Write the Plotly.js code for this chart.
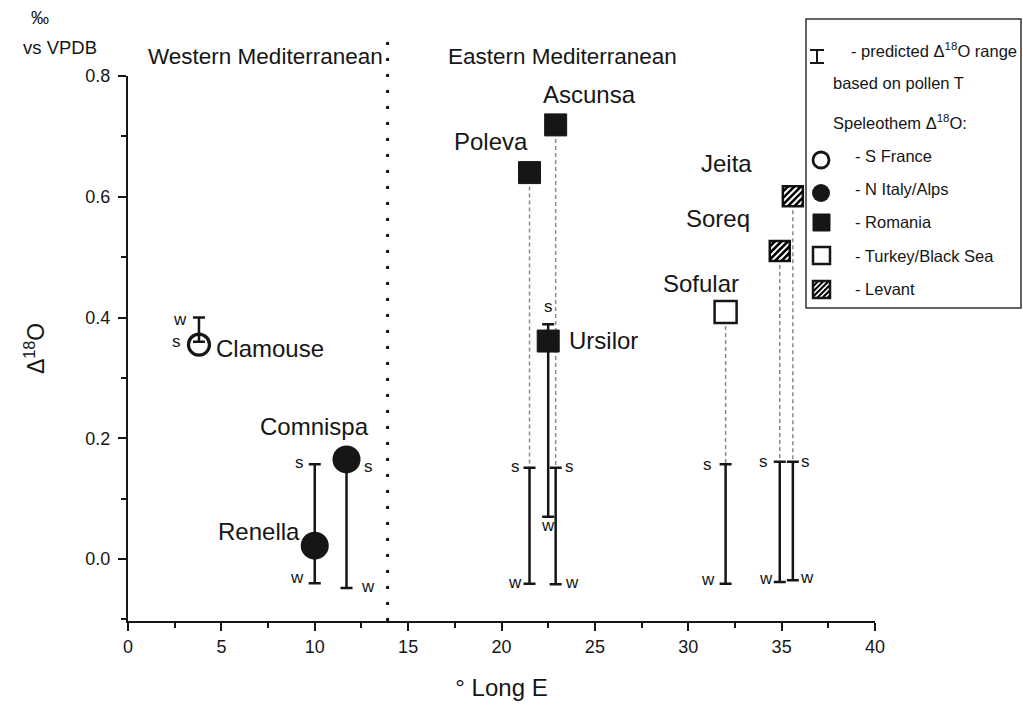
<!DOCTYPE html>
<html><head><meta charset="utf-8">
<script src="https://cdn.plot.ly/plotly-3.0.1.min.js"></script>
<style>html,body{margin:0;padding:0;background:#fff}#chart{width:1023px;height:707px}</style>
</head><body><div id="chart"></div>
<script>
// ---------------- data ----------------
const siteNames  = ['Clamouse','Renella','Comnispa','Poleva','Ascunsa','Ursilor','Sofular','Soreq','Jeita'];
const siteRegion = ['S France','N Italy/Alps','N Italy/Alps','Romania','Romania','Romania','Turkey/Black Sea','Levant','Levant'];
const siteLong   = [3.8, 10.0, 11.7, 21.5, 22.9, 22.5, 32.0, 34.9, 35.6];
const siteD18O   = [0.355, 0.022, 0.165, 0.640, 0.719, 0.361, 0.409, 0.510, 0.601];
// predicted range from pollen T (s = summer end, w = winter end)
const rangeSummer = [0.360, 0.157, 0.150, 0.151, 0.151, 0.389, 0.157, 0.161, 0.161];
const rangeWinter = [0.400, -0.040, -0.048, -0.041, -0.042, 0.070, -0.041, -0.038, -0.035];
const connectorSites = ['Poleva','Ascunsa','Sofular','Soreq','Jeita'];
const regionNames = ['S France','N Italy/Alps','Romania','Turkey/Black Sea','Levant'];
const divideLong = 13.9;
const xTickVals = [0,5,10,15,20,25,30,35,40];
const yTickVals = [0.0,0.2,0.4,0.6,0.8];

// ---------------- styles ----------------
const FONT = 'Liberation Sans, Arial, sans-serif';
const INK = '#161616';
const PL = 128, PT = 76, PW = 747, PH = 545;
const XR = [0, 40], YR = [-0.1027, 0.8];
const px2x = p => (p - PL) / PW;
const py2y = p => (PT + PH - p) / PH;
const regionStyle = {
  'S France':        {symbol:'circle-open', size:21, color:INK, line:{width:3.2, color:INK}},
  'N Italy/Alps':    {symbol:'circle', size:28, color:INK, line:{width:0, color:INK}},
  'Romania':         {symbol:'square', size:22, color:INK, line:{width:1, color:INK}},
  'Turkey/Black Sea':{symbol:'square', size:22, color:'white', line:{width:2.5, color:INK}},
  'Levant':          {symbol:'square', size:20, color:'white', line:{width:2.5, color:INK}}
};
const labelAnchor = ['left','right','center','center','center','left','center','center','center'];
const labelShift  = [[15,-4],[-13,14],[-32,33],[-39,31],[34,30],[19,1],[-25,29],[-62,33],[-66,33]];
const sShift = [[-22,0],[-15,1.5],[22,1.5],[-14,1.5],[14,1.5],[0,17.5],[-18,0],[-16,0],[13,0]];
const wShift = [[-19,-1.5],[-18,5.5],[21,1.5],[-15,1.5],[16,1.5],[0,-8.5],[-18,4.5],[-14,3.5],[14,2.5]];

function hatchURI(){
  let l = '';
  for (let k = -21; k <= 21; k += 6.5) l += `<line x1='${k}' y1='20' x2='${k+20}' y2='0'/>`;
  const svg = `<svg xmlns='http://www.w3.org/2000/svg' width='20' height='20' viewBox='0 0 20 20'><g stroke='black' stroke-width='2.6'>${l}</g></svg>`;
  return 'data:image/svg+xml;charset=utf-8,' + encodeURIComponent(svg);
}
const HATCH = hatchURI();

// ---------------- traces ----------------
const traces = [];
const cx = [], cy = [];
siteNames.forEach((n,i) => { if (connectorSites.includes(n)) { cx.push(siteLong[i], siteLong[i], null); cy.push(siteD18O[i], rangeSummer[i], null); } });
traces.push({x:cx, y:cy, mode:'lines', line:{color:'#8a8a8a', width:1.5, dash:'4px,3px'}, hoverinfo:'skip', showlegend:false});
traces.push({
  name:'predicted range', x: siteLong, y: rangeSummer, mode:'markers',
  marker:{size:2, opacity:0}, showlegend:false,
  error_y:{type:'data', symmetric:false,
    array: rangeSummer.map((s,i) => Math.max(rangeWinter[i]-s, 0)),
    arrayminus: rangeSummer.map((s,i) => Math.max(s-rangeWinter[i], 0)),
    color:INK, thickness:2.5, width:6}
});
regionNames.forEach(r => {
  const idx = siteRegion.map((g,i) => g === r ? i : -1).filter(i => i >= 0);
  const st = regionStyle[r];
  traces.push({name:r, x: idx.map(i => siteLong[i]), y: idx.map(i => siteD18O[i]), text: idx.map(i => siteNames[i]),
    mode:'markers', showlegend:false, marker:{symbol:st.symbol, size:st.size, color:st.color, line:st.line}});
});

// ---------------- annotations ----------------
const ann = [];
siteNames.forEach((n,i) => {
  ann.push({x:siteLong[i], y:siteD18O[i], xref:'x', yref:'y', text:n, showarrow:false, xanchor:labelAnchor[i], yanchor:'middle',
    xshift:labelShift[i][0], yshift:labelShift[i][1], font:{family:FONT, size:24, color:INK}});
  ann.push({x:siteLong[i], y:rangeSummer[i], xref:'x', yref:'y', text:'s', showarrow:false, xanchor:'center', yanchor:'middle',
    xshift:sShift[i][0], yshift:sShift[i][1], font:{family:FONT, size:17, color:INK}});
  ann.push({x:siteLong[i], y:rangeWinter[i], xref:'x', yref:'y', text:'w', showarrow:false, xanchor:'center', yanchor:'middle',
    xshift:wShift[i][0], yshift:wShift[i][1], font:{family:FONT, size:17, color:INK}});
});
const pa = (text, px, py, size, xa) => ({x:px2x(px), y:py2y(py), xref:'paper', yref:'paper', text, showarrow:false,
  xanchor: xa || 'center', yanchor:'middle', font:{family:FONT, size, color:INK}});
ann.push(pa('Western Mediterranean', 265, 57, 22.5));
ann.push(pa('Eastern Mediterranean', 562, 57, 22.5));
ann.push(pa('‰', 40, 18, 18));
ann.push(pa('vs VPDB', 60, 47, 18.5));
ann.push(pa('- predicted Δ<sup>18</sup>O range', 849, 50, 16.5, 'left'));
ann.push(pa('based on pollen T', 831, 83, 16.5, 'left'));
ann.push(pa('Speleothem Δ<sup>18</sup>O:', 831, 122, 16.5, 'left'));
const legRows = [156, 189, 222, 256, 289];
regionNames.forEach((r,k) => ann.push(pa('- ' + r, 853, legRows[k], 16.5, 'left')));

// ---------------- shapes ----------------
const shapes = [];
shapes.push({type:'line', xref:'x', yref:'paper', x0:divideLong, x1:divideLong, y0:0, y1:py2y(38), line:{color:INK, width:3, dash:'3px,13px'}});
const pr = (x0,y0,x1,y1,extra) => Object.assign({xref:'paper', yref:'paper', x0:px2x(x0), x1:px2x(x1), y0:py2y(y0), y1:py2y(y1)}, extra);
shapes.push(pr(806, 19, 1021, 308, {type:'rect', line:{color:'#333', width:1.5}, fillcolor:'rgba(0,0,0,0)'}));
shapes.push(pr(817, 50, 817, 63, {type:'line', line:{color:INK, width:2}}));
shapes.push(pr(810, 50, 824, 50, {type:'line', line:{color:INK, width:2}}));
shapes.push(pr(810, 63, 824, 63, {type:'line', line:{color:INK, width:2}}));
shapes.push(pr(813, 152, 829, 168, {type:'circle', line:{color:INK, width:2.8}, fillcolor:'white'}));
shapes.push(pr(812, 184, 830, 202, {type:'circle', line:{color:INK, width:0}, fillcolor:INK}));
shapes.push(pr(813, 214, 830, 231, {type:'rect', line:{color:INK, width:1}, fillcolor:INK}));
shapes.push(pr(813, 247, 830, 264, {type:'rect', line:{color:INK, width:2.5}, fillcolor:'white'}));
shapes.push(pr(813, 281, 830, 298, {type:'rect', line:{color:INK, width:2.5}, fillcolor:'rgba(0,0,0,0)'}));

// ---------------- images (hatch fill) ----------------
const images = [];
const hp = 20;
siteNames.forEach((n,i) => {
  if (siteRegion[i] === 'Levant') images.push({source:HATCH, xref:'x', yref:'y', x:siteLong[i], y:siteD18O[i],
    sizex: hp*(XR[1]-XR[0])/PW, sizey: hp*(YR[1]-YR[0])/PH, xanchor:'center', yanchor:'middle', sizing:'stretch', layer:'above'});
});
images.push({source:HATCH, xref:'paper', yref:'paper', x:px2x(821.5), y:py2y(289.5), sizex:16/PW, sizey:16/PH,
  xanchor:'center', yanchor:'middle', sizing:'stretch', layer:'above'});

const axCommon = {showline:true, linecolor:INK, linewidth:2, ticks:'outside', tickcolor:INK, tickwidth:2, ticklen:8,
  showgrid:false, zeroline:false, tickfont:{family:FONT, size:18, color:INK}, fixedrange:true};

const layout = {
  width:1023, height:707, paper_bgcolor:'white', plot_bgcolor:'white',
  margin:{l:PL, r:1023-PL-PW, t:PT, b:707-PT-PH},
  showlegend:false,
  xaxis: Object.assign({}, axCommon, {range:XR, tickvals:xTickVals, minor:{dtick:2.5, ticks:'outside', ticklen:5, tickwidth:2, tickcolor:INK},
    title:{text:'° Long E', font:{family:FONT, size:24, color:INK}, standoff:24}}),
  yaxis: Object.assign({}, axCommon, {range:YR, tickvals:yTickVals, tickformat:'.1f', ticklabelstandoff:4,
    minor:{tickvals:[-0.1,0.1,0.3,0.5,0.7], ticks:'outside', ticklen:5, tickwidth:2, tickcolor:INK},
    title:{text:'Δ<sup>18</sup>O', font:{family:FONT, size:23, color:INK}, standoff:34}}),
  annotations: ann, shapes: shapes, images: images
};

Plotly.newPlot('chart', traces, layout, {displayModeBar:false, staticPlot:true});
</script></body></html>
